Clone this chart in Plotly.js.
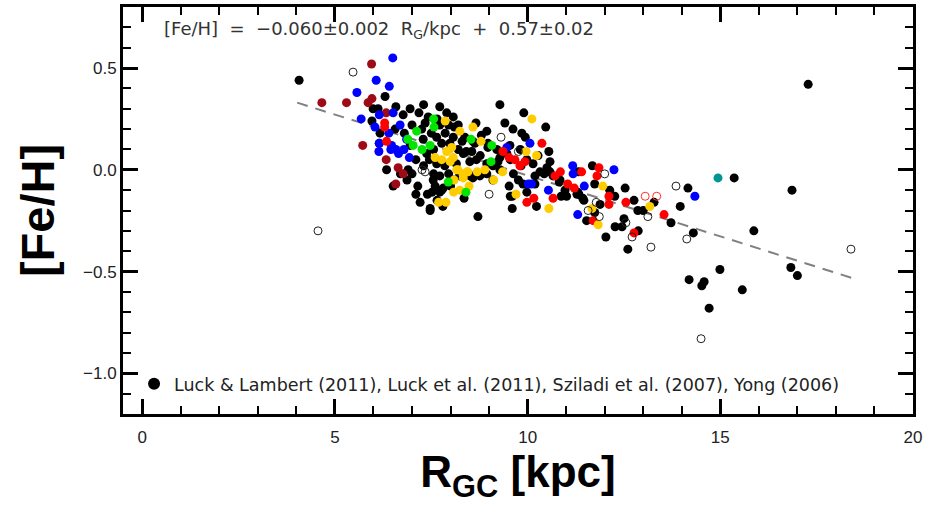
<!DOCTYPE html>
<html>
<head>
<meta charset="utf-8">
<script src="https://cdn.plot.ly/plotly-3.0.1.min.js"></script>
<style>html,body{margin:0;padding:0;background:#fff;}#chart{width:936px;height:507px;}</style>
</head>
<body>
<div id="chart"></div>
<script>
// ---- data ----
const blackX = [4.07,17.28,16.86,16.83,17.0,15.36,15.87,14.99,14.19,14.52,14.58,15.57,14.71,14.3,13.72,13.96,14.16,12.6,13.28,13.0,12.86,12.76,12.53,12.87,12.03,12.27,12.45,12.5,11.53,11.74,11.88,12.13,12.26,11.33,11.43,11.74,11.68,10.82,11.3,
  9.28,9.9,9.41,10.47,8.94,8.66,8.97,9.62,9.85,9.94,10.55,9.2,9.23,8.56,9.52,9.6,9.6,8.71,9.88,10.19,10.23,10.43,10.58,10.87,10.97,11.28,11.46,11.32,10.58,10.5,10.14,9.83,9.55,9.28,9.28,9.1,8.94,8.76,8.58,8.07,8.24,8.33,8.55,8.77,8.97,8.58,8.37,7.98,8.67,8.94,9.1,9.46,9.63,9.76,9.55,9.98,10.19,10.32,10.66,10.84,11.01,9.98,10.27,9.81,9.54,8.1,
  6.3,6.12,6.58,6.77,6.17,6.56,6.34,6.87,7.18,7.42,7.72,7.9,8.07,7.34,7.72,7.86,7.29,7.64,8.07,8.3,7.77,7.56,7.64,7.38,8.41,8.5,8.63,7.56,7.72,7.6,7.52,7.77,7.21,7.47,8.24,5.99,5.96,6.15,6.51,7.47,7.72,7.81,7.55,8.5,
  7.0,7.1,7.0,7.25,7.5,7.45,7.3,7.65,7.95,8.2,8.15,7.85,7.95,6.95,7.15,7.4,7.65,8.0,6.7,6.8,
  6.95,7.3,8.2,8.8,7.1,7.8,8.35,6.9];
const blackY = [0.44,0.42,-0.10,-0.48,-0.52,-0.04,-0.30,-0.49,-0.54,-0.57,-0.55,-0.59,-0.68,-0.31,-0.26,-0.18,-0.09,-0.39,-0.16,-0.20,-0.20,-0.15,-0.09,-0.30,-0.33,-0.28,-0.28,-0.24,-0.25,-0.21,-0.17,-0.10,-0.13,-0.12,-0.14,-0.07,0.02,-0.06,-0.11,
  0.32,0.28,0.23,0.21,0.19,0.23,0.13,0.20,0.18,0.16,0.09,0.10,0.04,-0.03,-0.08,-0.13,-0.19,-0.23,-0.07,-0.03,-0.18,-0.02,-0.01,-0.13,-0.10,-0.12,-0.15,-0.01,0.04,0.01,0.03,0.02,0.05,0.06,0.0,-0.05,-0.02,-0.03,-0.04,-0.05,-0.02,0.08,0.09,0.07,0.11,0.14,0.16,0.13,0.05,0.03,0.02,0.08,-0.02,-0.05,-0.13,-0.11,-0.07,-0.01,-0.03,-0.05,-0.13,0.05,0.07,0.10,0.12,0.21,
  0.36,0.30,0.31,0.27,0.18,0.20,0.0,-0.05,0.28,0.26,0.31,0.28,0.26,0.23,0.22,0.18,0.15,0.16,0.16,0.14,0.13,0.10,0.03,0.08,0.09,0.04,0.13,-0.02,-0.03,-0.08,-0.11,-0.10,-0.16,-0.19,-0.03,0.30,0.24,0.13,-0.08,-0.20,-0.11,-0.09,-0.05,-0.03,
  0.22,0.05,-0.02,0.20,0.18,0.05,0.02,0.25,0.22,0.10,0.03,0.02,-0.02,0.12,-0.08,-0.12,-0.15,-0.08,-0.02,0.18,
  0.30,0.32,0.22,0.17,-0.12,-0.18,-0.14,0.0];
const blueX = [6.5,6.07,6.41,5.57,5.68,6.15,6.04,6.14,6.51,6.69,6.4,6.15,6.47,6.58,6.65,6.45,6.93,6.79,6.86,9.46,10.06,10.02,10.1,10.54,11.17,11.18,11.47,11.3,12.24,14.34];
const blueY = [0.55,0.44,0.41,0.38,0.25,0.27,0.21,0.09,0.28,0.22,0.18,0.13,0.12,0.10,0.08,0.10,0.06,0.10,0.15,0.11,0.13,-0.07,-0.07,-0.10,0.02,-0.02,-0.08,-0.22,0.0,-0.13];
const maroonX = [5.95,4.66,5.3,5.86,5.96,5.72,6.33,6.64,6.58,6.33,6.77];
const maroonY = [0.52,0.33,0.33,0.33,0.35,0.12,0.05,0.01,-0.07,0.28,-0.02];
const redX = [6.29,6.29,6.34,9.36,9.52,9.67,9.8,9.93,10.37,9.98,10.16,10.66,10.71,10.85,11.04,11.4,11.21,11.8,11.85,11.7,12.11,12.11,12.55,12.76,13.54];
const redY = [0.23,0.21,0.14,0.09,0.06,0.05,0.02,0.04,0.13,-0.16,-0.14,-0.14,-0.03,-0.01,-0.07,-0.01,-0.09,-0.03,0.01,-0.25,-0.13,-0.17,-0.16,-0.31,-0.22];
const yellowX = [10.11,8.58,8.24,8.79,9.96,10.23,9.35,8.89,8.69,8.43,8.19,8.33,8.09,9.12,8.48,8.08,7.88,7.69,9.7,10.55,7.86,7.6,7.77,7.9,8.03,8.07,7.99,8.16,8.32,8.45,8.24,11.83,11.67,11.95,13.17];
const yellowY = [0.25,0.21,0.19,0.14,0.09,0.07,-0.01,0.0,-0.01,-0.01,0.0,-0.04,-0.05,-0.05,-0.08,-0.11,-0.16,-0.16,-0.12,-0.19,0.24,0.06,0.05,0.09,0.11,0.06,0.04,0.0,-0.02,-0.01,-0.10,-0.27,-0.19,-0.08,-0.18];
const greenX = [8.53,9.07,9.05,7.94,8.4,7.12,6.89,7.03,7.26,7.47,7.56,7.57];
const greenY = [0.15,0.12,0.04,-0.06,-0.11,0.19,0.15,0.12,0.10,0.12,0.25,0.21];
const openX = [5.47,4.56,18.39,14.5,14.13,13.85,13.2,13.12,12.71,12.55,11.86,11.57,11.78,12.0,9.31,9.0,7.26,7.34,9.76];
const openY = [0.48,-0.30,-0.39,-0.83,-0.34,-0.08,-0.38,-0.23,-0.33,-0.26,-0.23,-0.20,-0.16,-0.02,0.16,-0.12,0.0,-0.01,0.09];
const openRedX = [13.05,13.35];
const openRedY = [-0.13,-0.13];
const tealX = [14.94];
const tealY = [-0.04];
const fitX = [4.02, 18.49];
const fitY = [0.33, -0.536];
const legendLabel = "Luck & Lambert (2011), Luck et al. (2011), Sziladi et al. (2007), Yong (2006)";
const fitLabel = "[Fe/H]\u00a0\u00a0=\u00a0\u00a0\u22120.060\u00b10.002\u00a0\u00a0R<sub>G</sub>/kpc\u00a0\u00a0+\u00a0\u00a00.57\u00b10.02";
const xTitle = "R<sub>GC</sub> [kpc]";
const yTitle = "[Fe/H]";

const FONT = "Liberation Sans, Arial, sans-serif";
const WIDEFONT = "DejaVu Sans, Liberation Sans, sans-serif";
const DOT = 9;
function dots(x, y, color, name, show) {
  return {x: x, y: y, type: 'scatter', mode: 'markers', name: name || '', showlegend: !!show,
    marker: {size: DOT, color: color, line: {width: 0}}, hoverinfo: 'skip'};
}
function rings(x, y, color) {
  return {x: x, y: y, type: 'scatter', mode: 'markers', showlegend: false,
    marker: {size: 8, color: 'rgba(255,255,255,0)', line: {width: 1, color: color}}, hoverinfo: 'skip'};
}
const traces = [
  {x: fitX, y: fitY, type: 'scatter', mode: 'lines', showlegend: false,
   line: {color: '#808080', width: 2, dash: '11px,8px'}, hoverinfo: 'skip'},
  dots(blackX, blackY, '#000000', legendLabel, true),
  dots(maroonX, maroonY, '#9e0a16'),
  dots(blueX, blueY, '#0000ff'),
  dots(redX, redY, '#ff0000'),
  dots(yellowX, yellowY, '#ffcc00'),
  dots(greenX, greenY, '#00e600'),
  dots(tealX, tealY, '#009494'),
  rings(openX, openY, '#222222'),
  rings(openRedX, openRedY, '#ff3030')
];
const axisCommon = {
  showgrid: false, zeroline: false, showline: true, linewidth: 3, linecolor: '#000',
  mirror: 'ticks', ticks: 'inside', ticklen: 15, tickwidth: 3, tickcolor: '#000',
  tickfont: {family: FONT, size: 17, color: '#222'}
};
const layout = {
  width: 936, height: 507,
  margin: {l: 123, r: 23, t: 7, b: 93},
  paper_bgcolor: '#fff', plot_bgcolor: '#fff',
  showlegend: true,
  legend: {x: 0.014, y: 0.074, xanchor: 'left', yanchor: 'middle', bgcolor: 'rgba(0,0,0,0)',
           font: {family: WIDEFONT, size: 17.5, color: '#222'}, itemsizing: 'constant'},
  xaxis: Object.assign({}, axisCommon, {
    range: [-0.5, 20], tick0: 0, dtick: 5, ticklabelstandoff: 6,
    minor: {dtick: 1, ticklen: 8, tickwidth: 2, ticks: 'inside', tickcolor: '#000'},
    title: {text: xTitle, font: {family: FONT, size: 44, color: '#000', weight: 'bold'}, standoff: 10}
  }),
  yaxis: Object.assign({}, axisCommon, {
    range: [-1.2, 0.8], tick0: 0, dtick: 0.5, tickformat: '.1f',
    minor: {dtick: 0.1, ticklen: 8, tickwidth: 2, ticks: 'inside', tickcolor: '#000'},
    title: {text: yTitle, font: {family: FONT, size: 47, color: '#000', weight: 'bold'}, standoff: 14}
  }),
  annotations: [{
    xref: 'paper', yref: 'paper', x: 0.049, y: 0.943, xanchor: 'left', yanchor: 'middle',
    text: fitLabel, showarrow: false, font: {family: WIDEFONT, size: 18, color: '#333'}
  }]
};
Plotly.newPlot('chart', traces, layout, {displayModeBar: false, staticPlot: true});
</script>
</body>
</html>
